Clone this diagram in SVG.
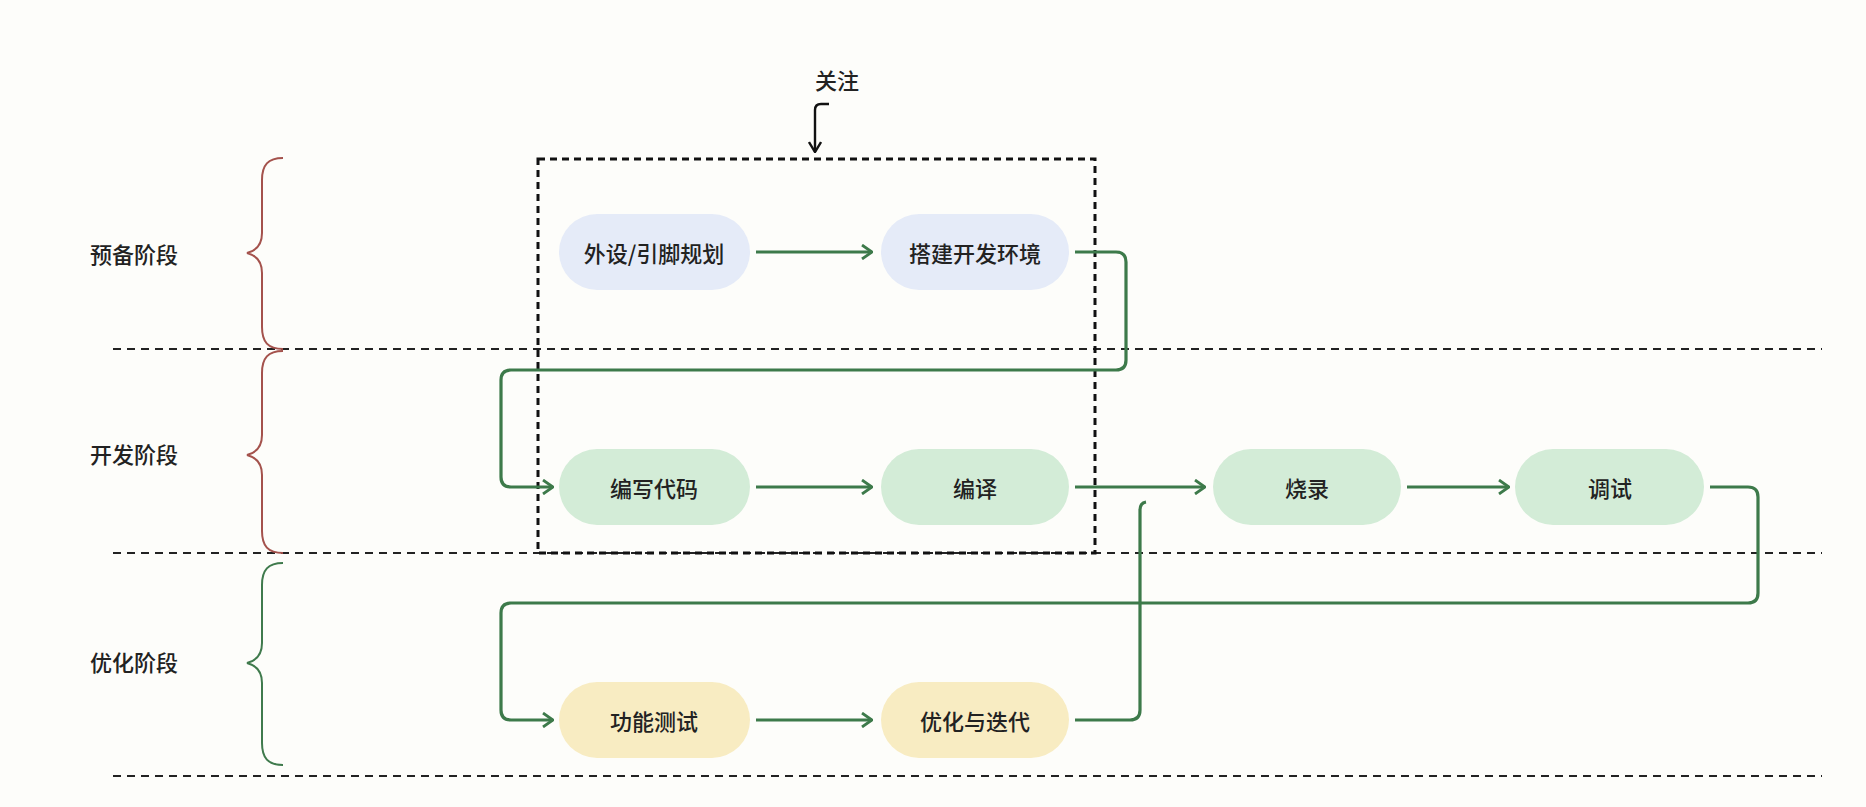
<svg xmlns="http://www.w3.org/2000/svg" width="1866" height="807" viewBox="0 0 1866 807">
<style>
.bg{fill:#fdfdfa}
.div{stroke:#222;stroke-width:2;stroke-dasharray:8,6;fill:none}
.box{stroke:#111;stroke-width:3;stroke-dasharray:7,5;fill:none}
.brace-r{stroke:#a4524c;stroke-width:2;fill:none}
.brace-g{stroke:#3f7a4c;stroke-width:2;fill:none}
.stage{font-family:"Noto Sans CJK SC","Noto Sans",sans-serif;font-size:22px;font-weight:500;fill:#222}
.lbl{font-family:"Noto Sans CJK SC","Noto Sans",sans-serif;font-size:22px;font-weight:500;fill:#222;text-anchor:middle;dominant-baseline:central}
.blue{fill:#e5ebf8}
.green{fill:#d3ecd7}
.yellow{fill:#f8ecc2}
.con{stroke:#3d7a4a;stroke-width:3.2;fill:none;stroke-linejoin:round}
</style>
<defs>
<marker id="ah" viewBox="0 0 12 16" refX="11" refY="8" markerWidth="12" markerHeight="16" markerUnits="userSpaceOnUse" orient="auto">
<path d="M1,1 L11,8 L1,15" fill="none" stroke="#3d7a4a" stroke-width="2.8"/>
</marker>
<marker id="ahk" viewBox="0 0 14 12" refX="7" refY="11" markerWidth="14" markerHeight="12" markerUnits="userSpaceOnUse" orient="0">
<path d="M1,1 L7,11 L13,1" fill="none" stroke="#111" stroke-width="2.4"/>
</marker>
</defs>
<rect class="bg" x="0" y="0" width="1866" height="807"/>

<g id="dividers">
<line class="div" x1="113" y1="349" x2="1822" y2="349"/>
<line class="div" x1="113" y1="553" x2="1822" y2="553"/>
<line class="div" x1="113" y1="776" x2="1822" y2="776"/>
</g>

<g id="stages">
<text class="stage" x="90" y="263">预备阶段</text>
<path class="brace-r" d="M283,158 C268,158 262,165 262,180 L262,233 C262,245 255,251 247,253 C255,255 262,261 262,273 L262,327 C262,342 268,349 283,349"/>
<text class="stage" x="90" y="463">开发阶段</text>
<path class="brace-r" d="M283,351 C268,351 262,358 262,373 L262,435 C262,447 255,453 247,455 C255,457 262,463 262,475 L262,531 C262,546 268,553 283,553"/>
<text class="stage" x="90" y="671">优化阶段</text>
<path class="brace-g" d="M283,563 C268,563 262,570 262,585 L262,643 C262,655 255,661 247,663 C255,665 262,671 262,683 L262,743 C262,758 268,765 283,765"/>
</g>

<g id="focus">
<rect class="box" x="538" y="159" width="557" height="394"/>
<text class="lbl" x="837" y="79">关注</text>
<path d="M829,104 L821,104 Q815,104 815,110 L815,152" fill="none" stroke="#111" stroke-width="2.4" marker-end="url(#ahk)"/>
</g>

<g id="connectors">
<path class="con" d="M756,252 L872,252" marker-end="url(#ah)"/>
<path class="con" d="M1075,252 L1116,252 Q1126,252 1126,262 L1126,360 Q1126,370 1116,370 L511,370 Q501,370 501,380 L501,477 Q501,487 511,487 L553,487" marker-end="url(#ah)"/>
<path class="con" d="M756,487 L872,487" marker-end="url(#ah)"/>
<path class="con" d="M1075,487 L1205,487" marker-end="url(#ah)"/>
<path class="con" d="M1407,487 L1509,487" marker-end="url(#ah)"/>
<path class="con" d="M1710,487 L1748,487 Q1758,487 1758,497 L1758,593 Q1758,603 1748,603 L511,603 Q501,603 501,613 L501,710 Q501,720 511,720 L553,720" marker-end="url(#ah)"/>
<path class="con" d="M756,720 L872,720" marker-end="url(#ah)"/>
<path class="con" d="M1075,720 L1130,720 Q1140,720 1140,710 L1140,510 Q1140,503 1146,502"/>
</g>

<g id="n1"><rect class="blue" x="559" y="214" width="191" height="76" rx="38"/><text class="lbl" x="654" y="252">外设/引脚规划</text></g>
<g id="n2"><rect class="blue" x="881" y="214" width="188" height="76" rx="38"/><text class="lbl" x="975" y="252">搭建开发环境</text></g>
<g id="n3"><rect class="green" x="559" y="449" width="191" height="76" rx="38"/><text class="lbl" x="654" y="487">编写代码</text></g>
<g id="n4"><rect class="green" x="881" y="449" width="188" height="76" rx="38"/><text class="lbl" x="975" y="487">编译</text></g>
<g id="n5"><rect class="green" x="1213" y="449" width="188" height="76" rx="38"/><text class="lbl" x="1307" y="487">烧录</text></g>
<g id="n6"><rect class="green" x="1515" y="449" width="189" height="76" rx="38"/><text class="lbl" x="1610" y="487">调试</text></g>
<g id="n7"><rect class="yellow" x="559" y="682" width="191" height="76" rx="38"/><text class="lbl" x="654" y="720">功能测试</text></g>
<g id="n8"><rect class="yellow" x="881" y="682" width="188" height="76" rx="38"/><text class="lbl" x="975" y="720">优化与迭代</text></g>
</svg>
